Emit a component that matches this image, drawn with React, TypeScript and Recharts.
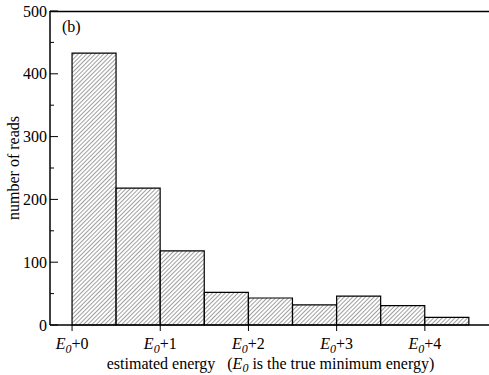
import { ComposedChart, Bar, XAxis, YAxis } from 'recharts'

// bin start (in units above E0), bins are 0.5 wide
const binStarts = [0, 0.5, 1, 1.5, 2, 2.5, 3, 3.5, 4]
const reads = [433, 218, 118, 52, 43, 32, 46, 31, 12]
const xTicks = [0, 1, 2, 3, 4]
const yTicks = [0, 50, 100, 150, 200, 250, 300, 350, 400, 450, 500]

const BIN_WIDTH = 0.5
const TOP = 11
const FONT = '"Liberation Serif", "Times New Roman", serif'

const data = binStarts.map((s, i) => ({ x: s + BIN_WIDTH / 2, reads: reads[i] }))

const LeftTick = ({ x, y, payload }: any) => {
  const major = payload.value % 100 === 0
  return (
    <g>
      <line x1={x} x2={x + (major ? 8 : 4)} y1={y} y2={y} stroke="#000" strokeWidth={1} />
      {major && (
        <text x={x - 3} y={y} dy={5.5} textAnchor="end" fontSize={16} fontFamily={FONT} fill="#000">
          {payload.value}
        </text>
      )}
      {payload.value === 500 && (
        <text x={x + 12} y={y} dy={21} fontSize={16} fontFamily={FONT} fill="#000">
          (b)
        </text>
      )}
    </g>
  )
}

const RightTick = ({ x, y, payload }: any) => {
  const major = payload.value % 100 === 0
  return <line x1={x} x2={x - (major ? 8 : 4)} y1={y} y2={y} stroke="#000" strokeWidth={1} />
}

const BottomTick = ({ x, y, payload }: any) => (
  <text x={x} y={y} dy={16} textAnchor="middle" fontSize={16} fontFamily={FONT} fill="#000">
    <tspan fontStyle="italic">E</tspan>
    <tspan fontStyle="italic" fontSize={12} dy={4}>0</tspan>
    <tspan dy={-4}>+{payload.value}</tspan>
  </text>
)

// bottom axis title, plus the top edge of the frame
const XTitle = ({ viewBox }: any) => (
  <g>
    <line x1={viewBox.x} x2={viewBox.x + viewBox.width} y1={TOP + 0.5} y2={TOP + 0.5} stroke="#000" strokeWidth={1.5} />
    <text
      x={viewBox.x + viewBox.width / 2}
      y={viewBox.y + 44}
      textAnchor="middle"
      fontSize={16}
      fontFamily={FONT}
      fill="#000"
    >
      estimated energy{'\u00a0\u00a0\u00a0'}(<tspan fontStyle="italic">E</tspan>
      <tspan fontStyle="italic" fontSize={12} dy={3}>0</tspan>
      <tspan dy={-3}> is the true minimum energy)</tspan>
    </text>
  </g>
)

export default function App() {
  return (
    <div style={{ position: 'absolute', left: 0, top: 0, width: 489, height: 375, background: '#fff', overflow: 'hidden' }}>
      <ComposedChart
        width={489}
        height={375}
        data={data}
        margin={{ top: TOP, right: -3, left: 0, bottom: 0 }}
        barCategoryGap={0}
        barGap={0}
      >
        <defs>
          <pattern id="hatch" patternUnits="userSpaceOnUse" width={3} height={3} patternTransform="rotate(45)">
            <rect width={3} height={3} fill="#fff" />
            <line x1={0} y1={0} x2={0} y2={3} stroke="#111" strokeWidth={0.8} />
          </pattern>
        </defs>
        <XAxis
          xAxisId="b"
          dataKey="x"
          type="number"
          domain={[-0.25, 4.75]}
          ticks={xTicks}
          interval={0}
          height={50}
          axisLine={{ stroke: '#000', strokeWidth: 1.5 }}
          tickLine={{ stroke: '#000', strokeWidth: 1 }}
          tickSize={6}
          tickMargin={2}
          tick={<BottomTick />}
          label={{ content: XTitle }}
        />
        <YAxis
          yAxisId="l"
          domain={[0, 500]}
          ticks={yTicks}
          interval={0}
          width={50}
          tickSize={0}
          tickMargin={0}
          axisLine={{ stroke: '#000', strokeWidth: 1.5 }}
          tickLine={false}
          tick={<LeftTick />}
          label={{
            content: ({ viewBox }: any) => (
              <text
                x={13}
                y={viewBox.y + viewBox.height / 2}
                transform={`rotate(-90, 13, ${viewBox.y + viewBox.height / 2})`}
                textAnchor="middle"
                dominantBaseline="central"
                fontSize={16}
                fontFamily={FONT}
                fill="#000"
              >
                number of reads
              </text>
            ),
          }}
        />
        <YAxis
          yAxisId="r"
          orientation="right"
          domain={[0, 500]}
          ticks={yTicks}
          interval={0}
          width={1}
          tickSize={0}
          tickMargin={0}
          axisLine={{ stroke: '#000', strokeWidth: 1.5 }}
          tickLine={false}
          tick={<RightTick />}
        />
        <Bar
          xAxisId="b"
          yAxisId="l"
          dataKey="reads"
          fill="url(#hatch)"
          stroke="#000"
          strokeWidth={1.2}
          isAnimationActive={false}
        />
      </ComposedChart>
    </div>
  )
}
